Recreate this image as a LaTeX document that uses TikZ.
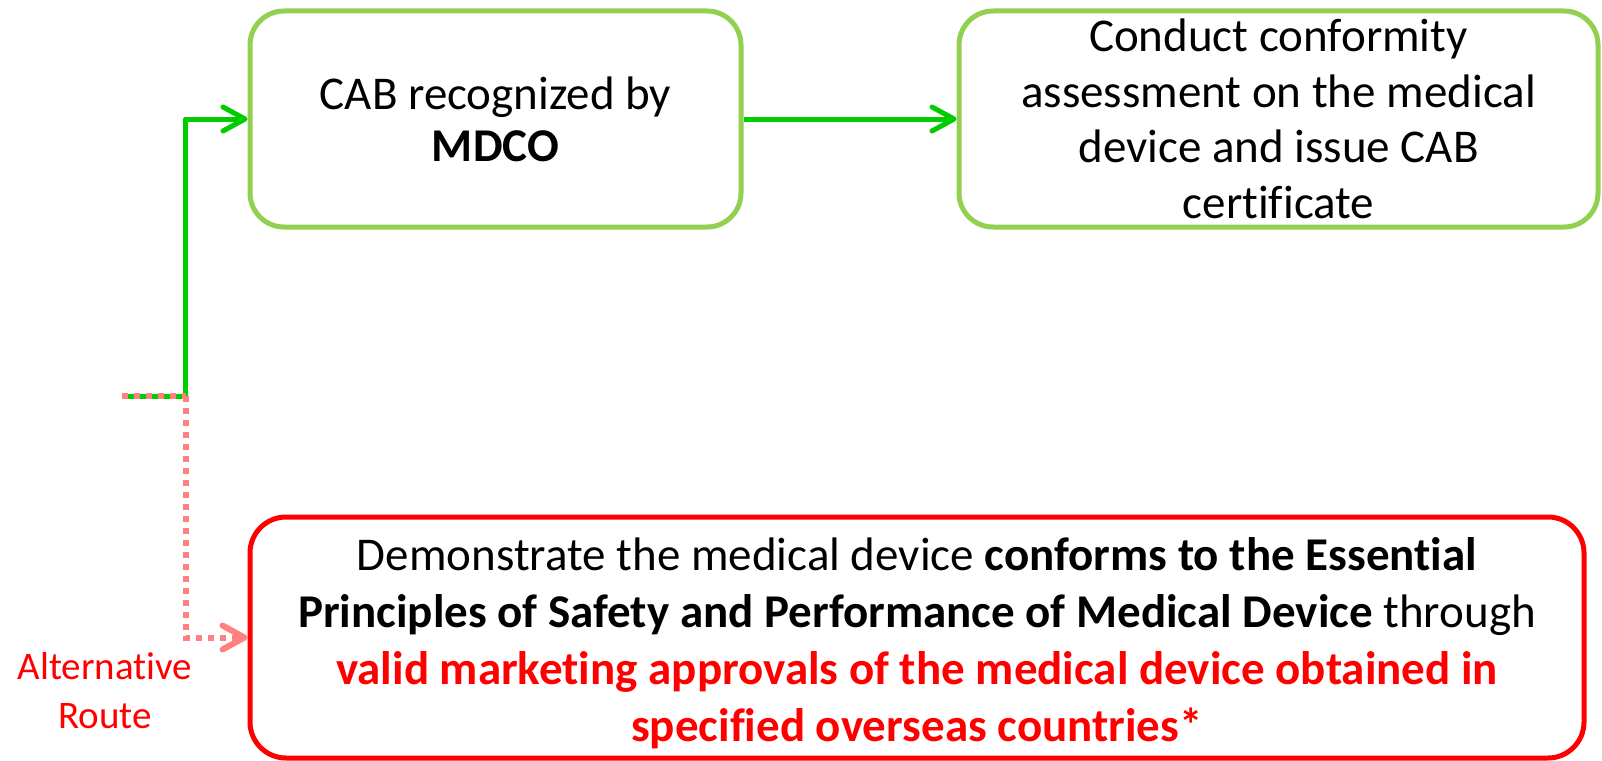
\documentclass[tikz,border=0pt]{standalone}
\usepackage{fontspec}
\setmainfont{Carlito}[Ligatures={NoCommon}]
\usetikzlibrary{arrows.meta}
\definecolor{boxgreen}{HTML}{92D050}
\definecolor{arrowgreen}{HTML}{00CC00}
\definecolor{altpink}{HTML}{FF8080}
\definecolor{alertred}{HTML}{FF0000}
\begin{document}
\begin{tikzpicture}[x=1pt,y=-1pt,
  greenbox/.style={draw=boxgreen, line width=5pt, rounded corners=34pt, align=center, inner sep=0pt},
  redbox/.style={draw=alertred, line width=5pt, rounded corners=36pt, align=center, inner sep=0pt},
  barb/.style={-{Straight Barb[length=22pt,width=24pt,round]}},
  greenflow/.style={draw=arrowgreen, line width=5pt, line join=round, barb},
  pinkflow/.style={draw=altpink, line width=6pt, dash pattern=on 6pt off 6pt, barb},
  pinkdash/.style={draw=altpink, line width=6pt, dash pattern=on 6pt off 6pt},
  altlabel/.style={text=alertred, align=center, font=\fontsize{39}{49}\selectfont},
]
\useasboundingbox (0,0) rectangle (1602,760);

\node[greenbox, minimum width=491pt, minimum height=216pt,
      font=\fontsize{47}{52}\selectfont] (cab) at (495.5,119)
  {CAB recognized by\\ \textbf{MDCO}};

\node[greenbox, minimum width=639pt, minimum height=216pt,
      font=\fontsize{47}{55.5}\selectfont] (conduct) at (1278.5,119)
  {Conduct conformity\\ assessment on the medical\\ device and issue CAB\\ certificate};

\node[redbox, minimum width=1334pt, minimum height=241pt,
      font=\fontsize{47}{57}\selectfont] (demo) at (917,637.5)
  {\rule{0pt}{44pt}Demonstrate the medical device \textbf{conforms to the Essential}\\
   \textbf{Principles of Safety and Performance of Medical Device} through\\
   \textcolor{alertred}{\textbf{valid marketing approvals of the medical device obtained in}}\\
   \textcolor{alertred}{\textbf{specified overseas countries*}}};

\node[altlabel] (alt) at (105,691) {Alternative\\ Route};

\coordinate (start) at (122,396);
\coordinate (split) at (185.5,396);

\draw[greenflow] (start) -- (split) |- (cab.west);
\draw[pinkdash] (start) -- (split);
\draw[pinkflow] (split) |- (demo.west);
\draw[greenflow] (cab.east) -- (conduct.west);
\end{tikzpicture}
\end{document}
